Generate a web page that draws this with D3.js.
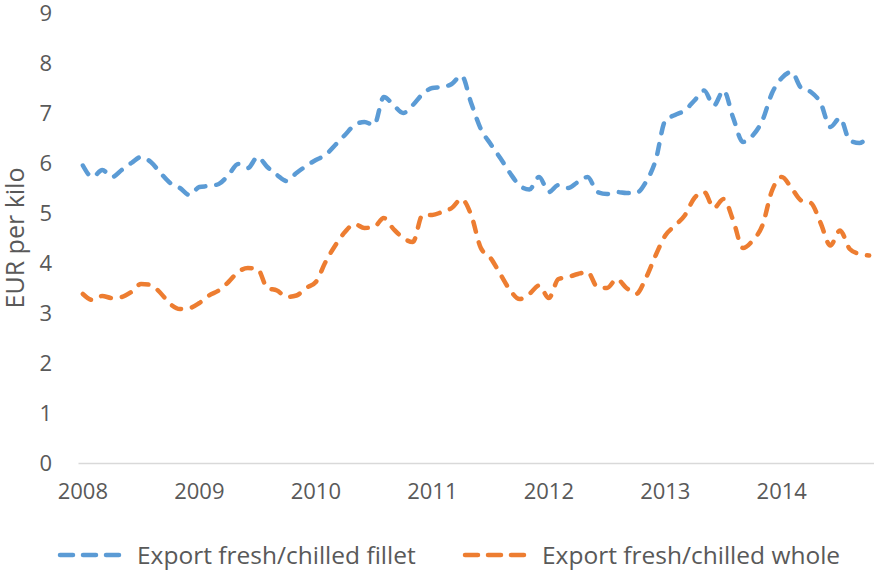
<!DOCTYPE html>
<html>
<head>
<meta charset="utf-8">
<script src="https://cdn.jsdelivr.net/npm/d3@7"></script>
<style>
  body { margin: 0; background: #fff; }
  text { font-family: "Open Sans", "Liberation Sans", sans-serif; fill: #595959; }
</style>
</head>
<body>
<div id="chart"></div>
<script>
// monthly values, Jan 2008 .. Oct 2014
const years = [2008, 2009, 2010, 2011, 2012, 2013, 2014];
const seriesNames = ["Export fresh/chilled fillet", "Export fresh/chilled whole"];

const fillet = [
  5.95, 5.72, 5.86, 5.72, 5.86, 6.0, 6.12, 6.02, 5.8, 5.6, 5.5, 5.36,
  5.52, 5.54, 5.58, 5.76, 5.98, 5.9, 6.12, 5.92, 5.76, 5.64, 5.8, 5.94,
  6.06, 6.16, 6.36, 6.56, 6.76, 6.82, 6.76, 7.32, 7.16, 7.0, 7.16, 7.38,
  7.5, 7.52, 7.58, 7.75, 7.2, 6.68, 6.38, 6.1, 5.8, 5.55, 5.47, 5.72,
  5.42, 5.56, 5.5, 5.62, 5.72, 5.42, 5.38, 5.42, 5.4, 5.4, 5.62, 6.05,
  6.85, 6.96, 7.05, 7.25, 7.45, 7.15, 7.45, 6.9, 6.42, 6.55, 6.85, 7.4,
  7.7, 7.82, 7.5, 7.42, 7.2, 6.72, 6.9, 6.45, 6.4, 6.58
];

const whole = [
  3.38, 3.26, 3.34, 3.3, 3.32, 3.42, 3.58, 3.56, 3.4, 3.18, 3.08, 3.1,
  3.2, 3.35, 3.45, 3.62, 3.82, 3.9, 3.88, 3.5, 3.45, 3.32, 3.35, 3.5,
  3.62, 4.02, 4.35, 4.62, 4.78, 4.7, 4.72, 4.9, 4.68, 4.5, 4.42, 4.96,
  4.96, 5.02, 5.1, 5.28, 4.96, 4.3, 4.1, 3.78, 3.46, 3.28, 3.38, 3.55,
  3.3, 3.68, 3.72, 3.78, 3.82, 3.52, 3.5, 3.68, 3.5, 3.38, 3.7, 4.15,
  4.55, 4.75, 4.95, 5.3, 5.42, 5.1, 5.28, 4.85, 4.3, 4.45, 4.75, 5.45,
  5.72, 5.5, 5.25, 5.2, 4.8, 4.35, 4.65, 4.28, 4.18, 4.15
];

const colors = ["#5B9BD5", "#ED7D31"];
const yTicks = [0, 1, 2, 3, 4, 5, 6, 7, 8, 9];

const width = 874, height = 574;
const plot = {left: 78, right: 874, top: 13, bottom: 463};

const svg = d3.select("#chart")
    .append("svg")
    .attr("width", width)
    .attr("height", height);

const months = d3.range(fillet.length);

const x = d3.scaleBand()
    .domain(months)
    .range([plot.left, plot.right]);

const y = d3.scaleLinear()
    .domain([0, 9])
    .range([plot.bottom, plot.top]);

// Y axis (labels only)
const yAxis = svg.append("g")
    .attr("transform", `translate(${plot.left}, 0)`)
    .call(d3.axisLeft(y).tickValues(yTicks).tickSize(0).tickPadding(26));
yAxis.select(".domain").remove();
yAxis.selectAll("text")
    .style("font-size", "22px")
    .style("font-family", "'Open Sans', sans-serif")
    .attr("fill", "#595959");

// X axis
const xAxis = svg.append("g")
    .attr("transform", `translate(0, ${plot.bottom})`)
    .call(d3.axisBottom(x)
        .tickValues(years.map((yr, i) => i * 12))
        .tickFormat((d, i) => years[i])
        .tickSize(0)
        .tickPadding(20));
xAxis.select(".domain")
    .attr("stroke", "#D9D9D9")
    .attr("stroke-width", 1.5);
xAxis.selectAll("text")
    .style("font-size", "22px")
    .style("font-family", "'Open Sans', sans-serif")
    .attr("fill", "#595959");

// Y axis title
svg.append("text")
    .attr("transform", "rotate(-90)")
    .attr("x", -238)
    .attr("y", 24)
    .attr("text-anchor", "middle")
    .style("font-size", "25px")
    .text("EUR per kilo");

// lines
const line = d3.line()
    .x(d => x(d[0]) + x.bandwidth() / 2)
    .y(d => y(d[1]))
    .curve(d3.curveMonotoneX);

[fillet, whole].forEach((vals, k) => {
    svg.append("path")
        .datum(vals.map((v, i) => [i, v]))
        .attr("fill", "none")
        .attr("stroke", colors[k])
        .attr("stroke-width", 4.5)
        .attr("stroke-linecap", "round")
        .attr("stroke-linejoin", "round")
        .attr("stroke-dasharray", "10,11")
        .attr("d", line);
});

// legend
const legendX = [58, 463];
const legend = svg.append("g");
seriesNames.forEach((name, k) => {
    legend.append("line")
        .attr("x1", legendX[k] + 2)
        .attr("x2", legendX[k] + 62)
        .attr("y1", 555)
        .attr("y2", 555)
        .attr("stroke", colors[k])
        .attr("stroke-width", 4.5)
        .attr("stroke-linecap", "round")
        .attr("stroke-dasharray", "13,10");
    legend.append("text")
        .attr("x", legendX[k] + 79)
        .attr("y", 555)
        .attr("dy", "0.35em")
        .style("font-size", "24.5px")
        .text(name);
});
</script>
</body>
</html>
